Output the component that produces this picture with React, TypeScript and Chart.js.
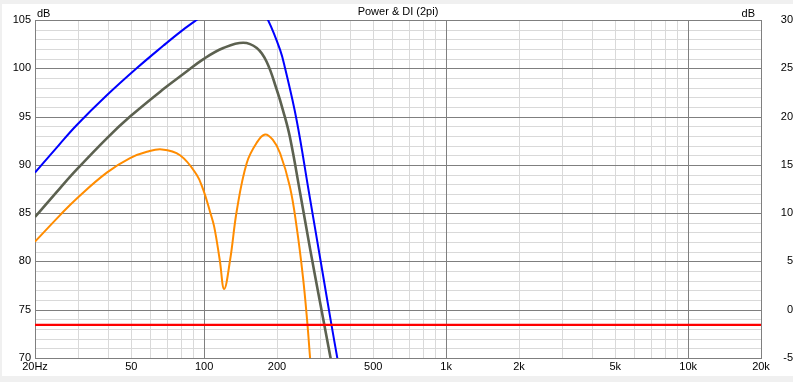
import React, { useEffect, useRef } from "react";
import { Chart, registerables } from "chart.js";

Chart.register(...registerables);

// ---- data ----
const splFreq = [20, 25, 29.7, 39.6, 52.6, 67.9, 80, 93, 110, 130, 150, 170, 183.6, 206, 216, 241, 270, 305, 336, 355, 380];
const splDb = [89.2, 92.0, 94.1, 97.2, 100.0, 102.35, 103.8, 105, 106.3, 107.1, 107.1, 106.2, 105, 101.9, 100, 94.65, 87.4, 79.6, 73.4, 70, 65.7];

const powerFreq = [20, 25.4, 29.7, 39.6, 49.4, 67.9, 82, 100, 120, 145, 165, 181, 199.4, 212, 226, 250, 274, 300, 333, 360];
const powerDb = [84.6, 87.6, 89.5, 92.75, 95.0, 97.85, 99.4, 101.0, 102.1, 102.65, 102.1, 100.7, 97.8, 95.6, 92.9, 86.9, 81.3, 76.0, 70, 65.4];

const diFreq = [20, 25.4, 29.7, 39.6, 49.4, 58, 66.9, 79.5, 93, 99.2, 105.6, 110, 116, 121, 128, 136.5, 150, 165, 178.4, 192, 206, 226, 241, 256, 267, 274, 284];
const diDb = [7.05, 9.8, 11.5, 14.2, 15.7, 16.35, 16.6, 16.0, 14.0, 12.4, 10.2, 8.6, 5.15, 2.15, 5.15, 10.3, 15.2, 17.3, 18.15, 17.6, 16.2, 12.75, 8.6, 3.4, -1.4, -5, -9.5];

const refFreq = [20, 20000];
const refDi = [-1.57, -1.57];

const xGridValues = [
  20, 30, 40, 50, 60, 70, 80, 90,
  100, 200, 300, 400, 500, 600, 700, 800, 900,
  1000, 2000, 3000, 4000, 5000, 6000, 7000, 8000, 9000,
  10000, 20000,
];
const xLabelValues = [20, 50, 100, 200, 500, 1000, 2000, 5000, 10000, 20000];
const xLabelTexts = ["20Hz", "50", "100", "200", "500", "1k", "2k", "5k", "10k", "20k"];
const xMajorValues = [100, 1000, 10000];

const yLeftValues: number[] = [];
for (let v = 70; v <= 105; v += 1) yLeftValues.push(v);
const yRightValues = [-5, 0, 5, 10, 15, 20, 25, 30];

const TITLE = "Power & DI (2pi)";

const MAJOR = "#7f7f7f";
const MINOR = "#d9d9d9";
const FONT_FAMILY = '"Liberation Sans", Arial, sans-serif';

function pts(fs: number[], vs: number[]) {
  return fs.map((f, i) => ({ x: f, y: vs[i] }));
}

const al = (p: number) => Math.round(p) + 0.5;

const decor = {
  id: "decor",
  beforeDraw(chart: any) {
    const { ctx } = chart;
    ctx.save();
    ctx.fillStyle = "#f0f0f0";
    ctx.fillRect(0, 0, chart.width, chart.height);
    ctx.fillStyle = "#ffffff";
    ctx.fillRect(2, 4, chart.width - 2, 372);
    ctx.restore();
  },
  beforeDatasetsDraw(chart: any) {
    const { ctx, chartArea } = chart;
    const xs = chart.scales.x;
    const ys = chart.scales.y;
    const { left, right, top, bottom } = chartArea;
    ctx.save();
    ctx.lineWidth = 1;
    const vline = (v: number) => {
      const p = al(xs.getPixelForValue(v));
      ctx.beginPath();
      ctx.moveTo(p, top);
      ctx.lineTo(p, bottom);
      ctx.stroke();
    };
    const hline = (v: number) => {
      const p = al(ys.getPixelForValue(v));
      ctx.beginPath();
      ctx.moveTo(left, p);
      ctx.lineTo(right, p);
      ctx.stroke();
    };
    ctx.strokeStyle = MINOR;
    xGridValues.filter((v) => xMajorValues.indexOf(v) < 0).forEach(vline);
    yLeftValues.filter((v) => v % 5 !== 0).forEach(hline);
    ctx.strokeStyle = MAJOR;
    xMajorValues.forEach(vline);
    yLeftValues.filter((v) => v % 5 === 0).forEach(hline);
    ctx.strokeRect(al(left), al(top), Math.round(right) - Math.round(left), Math.round(bottom) - Math.round(top));
    ctx.restore();
  },
  afterDraw(chart: any) {
    const { ctx, chartArea } = chart;
    ctx.save();
    ctx.font = `11px ${FONT_FAMILY}`;
    ctx.fillStyle = "#000";
    ctx.textBaseline = "alphabetic";
    ctx.textAlign = "center";
    ctx.fillText(TITLE, (chartArea.left + chartArea.right) / 2, 15);
    ctx.textAlign = "left";
    ctx.fillText("dB", chartArea.left + 2, 17);
    ctx.textAlign = "right";
    ctx.fillText("dB", chartArea.right - 6, 17);
    ctx.restore();
  },
};

export default function App() {
  const ref = useRef<HTMLCanvasElement | null>(null);

  useEffect(() => {
    if (!ref.current) return;
    const font = { family: FONT_FAMILY, size: 11 };
    const line = { pointRadius: 0, tension: 0.4, clip: 0 };
    const chart = new Chart(ref.current, {
      type: "line",
      data: {
        datasets: [
          {
            label: "ref",
            data: pts(refFreq, refDi),
            yAxisID: "y2",
            borderColor: "#ff0000",
            borderWidth: 2.2,
            pointRadius: 0,
            tension: 0,
            clip: 0,
          },
          {
            label: "DI",
            data: pts(diFreq, diDb),
            yAxisID: "y2",
            borderColor: "#ff8c00",
            borderWidth: 2,
            ...line,
          },
          {
            label: "Power",
            data: pts(powerFreq, powerDb),
            yAxisID: "y",
            borderColor: "#5c6150",
            borderWidth: 2.6,
            ...line,
          },
          {
            label: "SPL",
            data: pts(splFreq, splDb),
            yAxisID: "y",
            borderColor: "#0000ff",
            borderWidth: 2,
            ...line,
          },
        ],
      } as any,
      options: {
        animation: false,
        responsive: false,
        maintainAspectRatio: false,
        devicePixelRatio: 1,
        layout: { padding: { top: 20, left: 0, right: 0, bottom: 0 } },
        plugins: {
          legend: { display: false },
          title: { display: false },
          tooltip: { enabled: false },
        },
        scales: {
          x: {
            type: "logarithmic",
            position: "bottom",
            min: 20,
            max: 20000,
            afterBuildTicks: (s: any) => {
              s.ticks = xGridValues.map((v) => ({ value: v }));
            },
            afterFit: (s: any) => {
              s.height = 24;
            },
            ticks: {
              autoSkip: false,
              maxRotation: 0,
              minRotation: 0,
              padding: 2,
              color: "#000",
              font,
              callback: (v: any) => {
                const i = xLabelValues.indexOf(Number(v));
                return i >= 0 ? xLabelTexts[i] : "";
              },
            },
            grid: { display: false, drawTicks: false },
            border: { display: false },
          },
          y: {
            type: "linear",
            position: "left",
            min: 70,
            max: 105,
            afterBuildTicks: (s: any) => {
              s.ticks = yLeftValues.map((v) => ({ value: v }));
            },
            afterFit: (s: any) => {
              s.width = 35;
            },
            ticks: {
              autoSkip: false,
              padding: 4,
              color: "#000",
              font,
              callback: (v: any) => (Number(v) % 5 === 0 ? String(v) : ""),
            },
            grid: { display: false, drawTicks: false },
            border: { display: false },
          },
          y2: {
            type: "linear",
            position: "right",
            min: -5,
            max: 30,
            afterBuildTicks: (s: any) => {
              s.ticks = yRightValues.map((v) => ({ value: v }));
            },
            afterFit: (s: any) => {
              s.width = 32;
            },
            ticks: {
              autoSkip: false,
              padding: 9,
              crossAlign: "far",
              color: "#000",
              font,
              callback: (v: any) => String(v),
            },
            grid: { display: false, drawTicks: false },
            border: { display: false },
          },
        },
      } as any,
      plugins: [decor],
    });
    return () => chart.destroy();
  }, []);

  return (
    <div style={{ position: "absolute", left: 0, top: 0, width: 793, height: 382 }}>
      <canvas ref={ref} width={793} height={382} style={{ width: 793, height: 382, display: "block" }} />
    </div>
  );
}
